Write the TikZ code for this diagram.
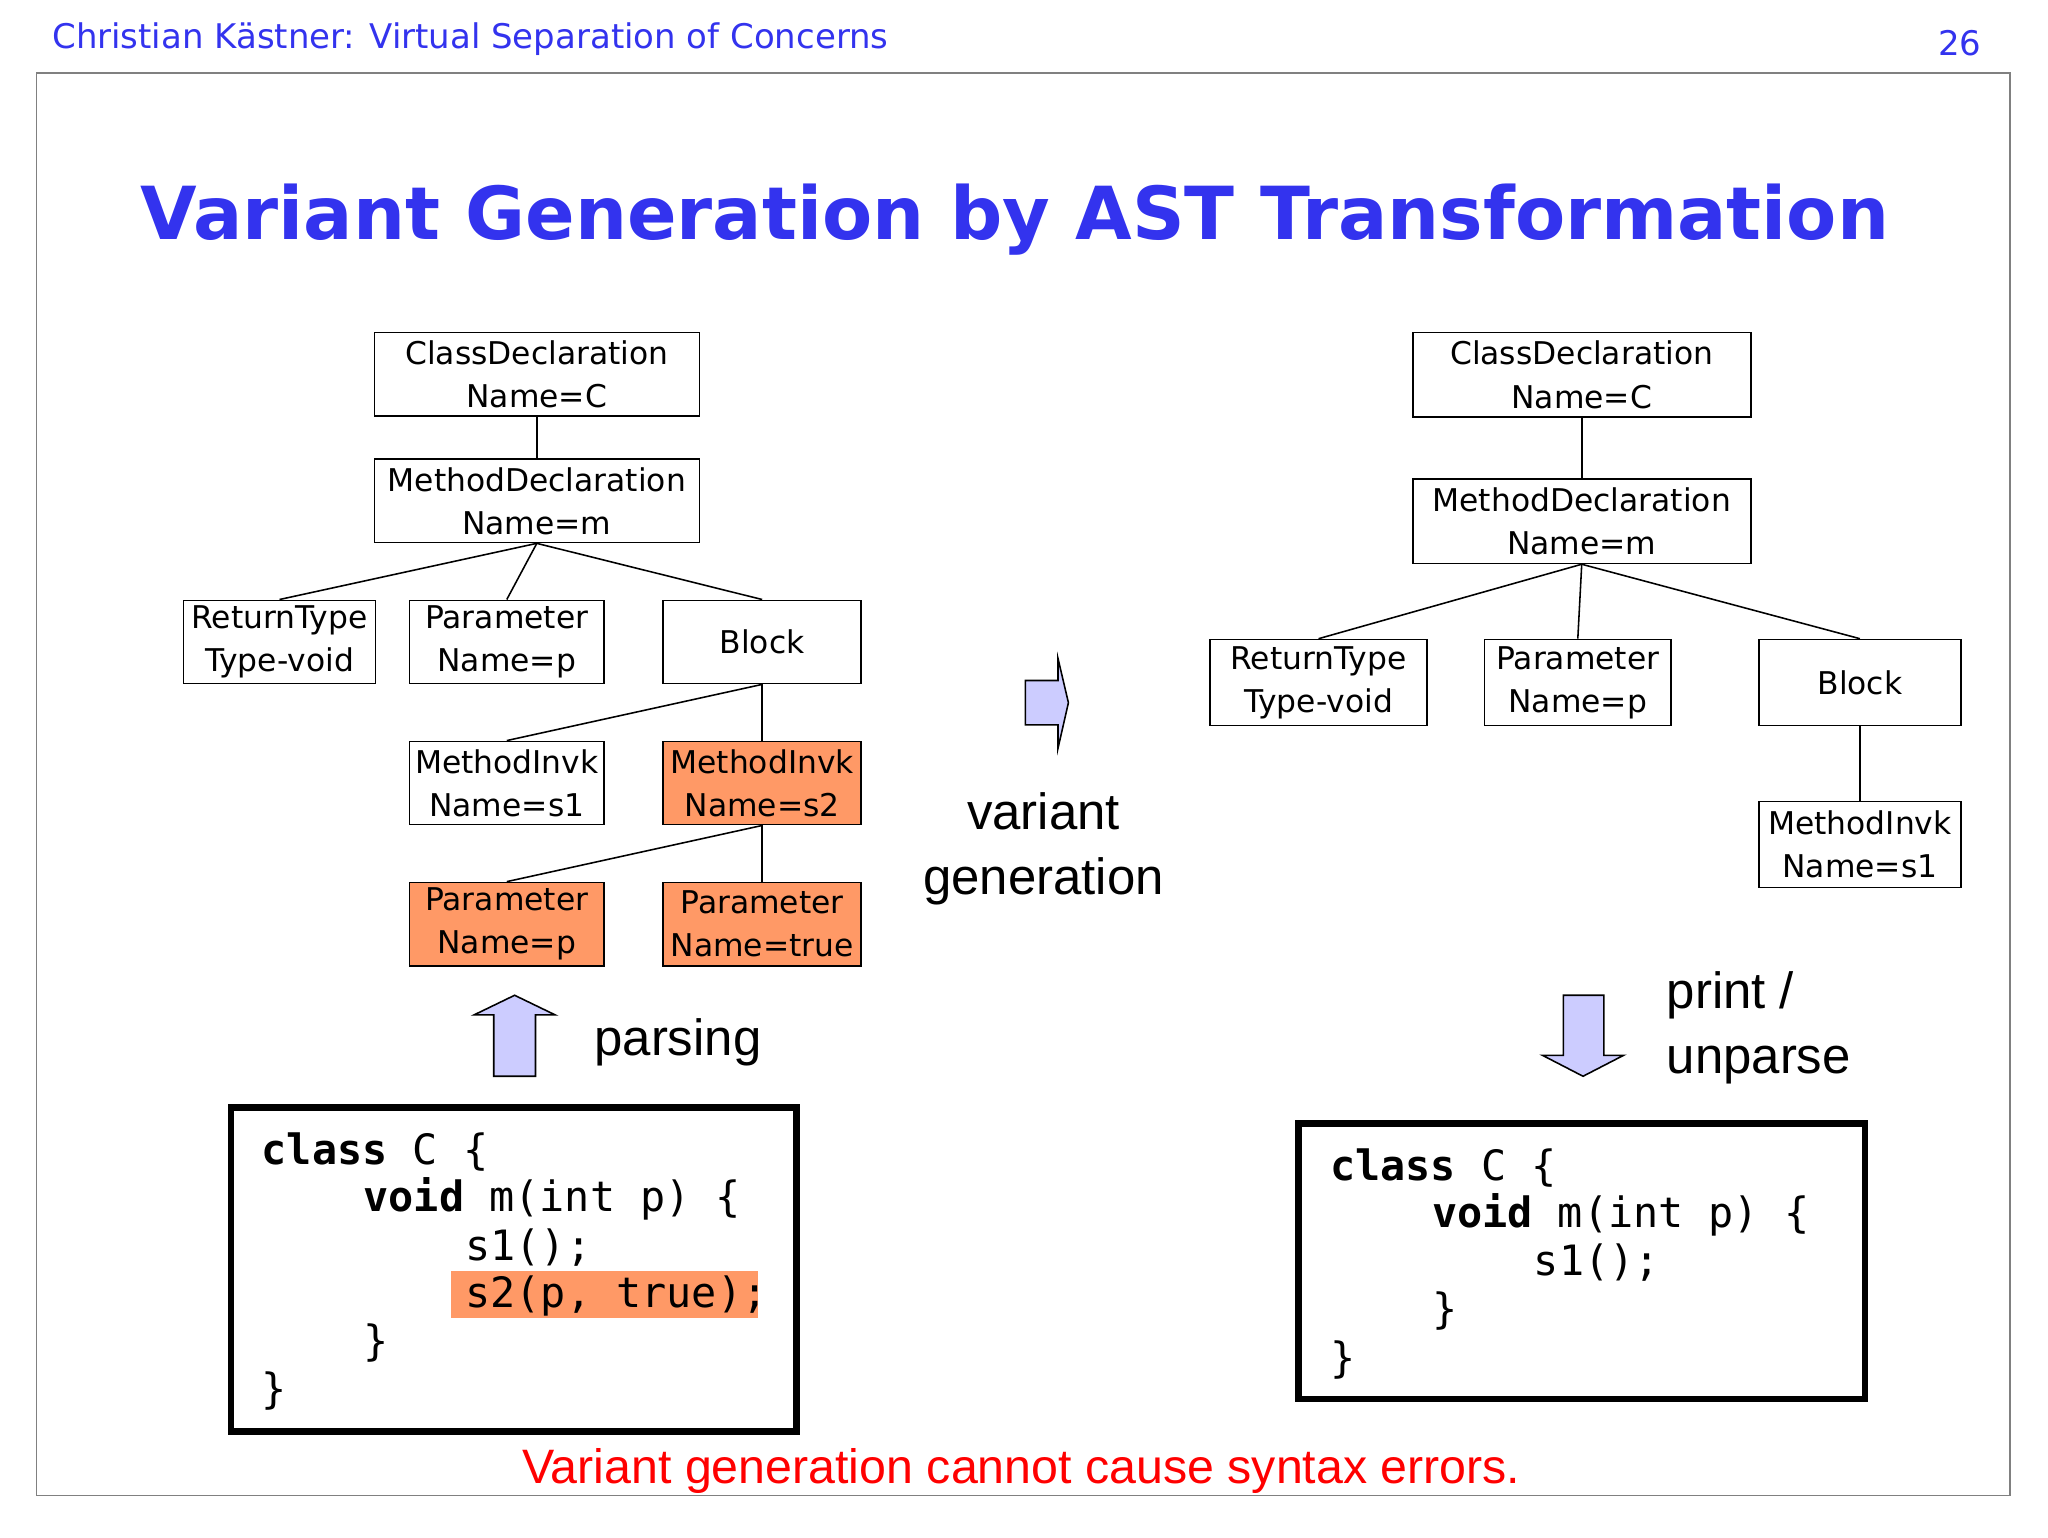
\documentclass[tikz,border=0pt]{standalone}
\usepackage{fontspec}
\setmainfont{DejaVu Sans}
\newfontfamily\arialf{Liberation Sans}
\newfontfamily\monof{DejaVu Sans Mono}
\definecolor{slideblue}{HTML}{3333EE}
\definecolor{hilite}{HTML}{FF9966}
\definecolor{lav}{HTML}{CCCCFF}
\begin{document}
\begin{tikzpicture}[x=0.5pt,y=-0.5pt,
 astnode/.style={draw,line width=0.6pt,inner sep=0pt,align=center,font=\fontsize{12}{16.5}\selectfont},
 hl/.style={fill=hilite},
 edge/.style={line width=0.6pt},
 blockarrow/.style={fill=lav,draw=black,line width=0.6pt,line join=miter},
 codebox/.style={draw,line width=2.5pt},
 code/.style={anchor=west,inner sep=0pt,font=\monof\fontsize{16}{18}\selectfont},
 big/.style={font=\arialf\fontsize{19.5}{25}\selectfont}]
\useasboundingbox (0,0) rectangle (1568,1177);
\node[anchor=west,text=slideblue,font=\fontsize{13}{15}\selectfont] (hdr) at (33,30) {Christian Kästner: Virtual Separation of Concerns};
\node[anchor=east,text=slideblue,font=\fontsize{13}{15}\selectfont] (pg) at (1524,33) {26};
\draw[gray,line width=0.6pt] (28,56) rectangle (1539,1145);
\node[text=slideblue,font=\bfseries\fontsize{28}{32}\selectfont] (title) at (777,168) {Variant Generation by AST Transformation};
% left tree
\newcommand{\astbox}[7]{\node[astnode,#7,minimum width=#4*0.5pt-0.6pt,minimum height=#5*0.5pt-0.6pt] (#1) at (#2,#3) {#6};}
\astbox{cd1}{411}{286.5}{250}{65}{ClassDeclaration\\Name=C}{}
\astbox{md1}{411}{383.5}{250}{65}{MethodDeclaration\\Name=m}{}
\astbox{rt1}{214}{491.5}{148}{65}{ReturnType\\Type-void}{}
\astbox{pa1}{388}{491.5}{150}{65}{Parameter\\Name=p}{}
\astbox{bl1}{583.5}{491.5}{153}{65}{Block}{}
\astbox{mi1}{388}{599.5}{150}{65}{MethodInvk\\Name=s1}{}
\astbox{mi2}{583.5}{599.5}{153}{65}{MethodInvk\\Name=s2}{hl}
\astbox{pp}{388}{707.5}{150}{65}{Parameter\\Name=p}{hl}
\astbox{pt}{583.5}{707.5}{153}{65}{Parameter\\Name=true}{hl}
\draw[edge] (cd1.south) -- (md1.north);
\draw[edge] (md1.south) -- (rt1.north);
\draw[edge] (md1.south) -- (pa1.north);
\draw[edge] (md1.south) -- (bl1.north);
\draw[edge] (bl1.south) -- (mi1.north);
\draw[edge] (bl1.south) -- (mi2.north);
\draw[edge] (mi2.south) -- (pp.north);
\draw[edge] (mi2.south) -- (pt.north);
% right tree
\astbox{cd2}{1211}{287}{260}{66}{ClassDeclaration\\Name=C}{}
\astbox{md2}{1211}{399}{260}{66}{MethodDeclaration\\Name=m}{}
\astbox{rt2}{1009.5}{522.5}{167}{67}{ReturnType\\Type-void}{}
\astbox{pa2}{1208}{522.5}{144}{67}{Parameter\\Name=p}{}
\astbox{bl2}{1424}{522.5}{156}{67}{Block}{}
\astbox{mi3}{1424}{646.5}{156}{67}{MethodInvk\\Name=s1}{}
\draw[edge] (cd2.south) -- (md2.north);
\draw[edge] (md2.south) -- (rt2.north);
\draw[edge] (md2.south) -- (pa2.north);
\draw[edge] (md2.south) -- (bl2.north);
\draw[edge] (bl2.south) -- (mi3.north);
% arrows
\draw[blockarrow] (785,521) -- (810,521) -- (810,504) -- (818,538) -- (810,573) -- (810,555) -- (785,555) -- cycle;
\draw[blockarrow] (378,824) -- (378,777) -- (363,777) -- (394,762) -- (425,777) -- (410,777) -- (410,824) -- cycle;
\draw[blockarrow] (1197,762) -- (1228,762) -- (1228,808) -- (1243,808) -- (1212,824) -- (1181,808) -- (1197,808) -- cycle;
\node[big,align=center] (vg) at (799,650) {variant\\generation};
\node[big,anchor=west] (pars) at (448,798) {parsing};
\node[big,anchor=west,align=left] (pu) at (1269,787) {print /\\unparse};
% code boxes
\draw[codebox] (177,848) rectangle (610,1096);
\fill[hilite] (345,973) rectangle (580,1009);
\node[code] (l1) at (200,882) {\textbf{class} C \{};
\node[code] (l2) at (278,918) {\textbf{void} m(int p) \{};
\node[code] (l3) at (356,955) {s1();};
\node[code] (l4) at (356,992) {s2(p, true);};
\node[code] (l5) at (278,1028) {\}};
\node[code] (l6) at (200,1065) {\}};
\draw[codebox] (994,860) rectangle (1428,1071);
\node[code] (r1) at (1018,894) {\textbf{class} C \{};
\node[code] (r2) at (1096,930) {\textbf{void} m(int p) \{};
\node[code] (r3) at (1174,967) {s1();};
\node[code] (r4) at (1096,1004) {\}};
\node[code] (r5) at (1018,1041) {\}};
\node[text=red,font=\arialf\fontsize{18.5}{22}\selectfont] (msg) at (782,1126) {Variant generation cannot cause syntax errors.};
\end{tikzpicture}
\end{document}
